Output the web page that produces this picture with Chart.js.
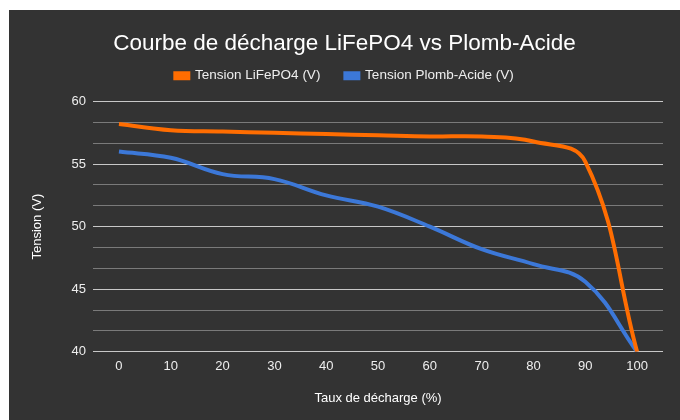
<!DOCTYPE html>
<html>
<head>
<meta charset="utf-8">
<script src="https://cdn.jsdelivr.net/npm/chart.js@4"></script>
<style>
  html, body { margin: 0; padding: 0; background: #fff; }
  #wrap { position: absolute; left: 9px; top: 10px; width: 671px; height: 410px; background: #333333; }
</style>
</head>
<body>
<div id="wrap"><canvas id="courbe"></canvas></div>
<script>
const decharge = [0, 10, 20, 30, 40, 50, 60, 70, 80, 90, 100];
const tensionLifepo4 = [58.2, 57.7, 57.6, 57.5, 57.4, 57.3, 57.2, 57.2, 56.8, 55.2, 40];
const tensionPlomb = [56.0, 55.5, 54.2, 53.8, 52.5, 51.6, 50.0, 48.2, 47.0, 45.6, 40];
const yLabels = [40, 45, 50, 55, 60];
const sousDivisions = 3;

const font = "'Liberation Sans', Arial, sans-serif";

// un peu d'espace sous la légende
const espaceLegende = {
  id: "espaceLegende",
  beforeInit(chart) {
    const fit = chart.legend.fit;
    chart.legend.fit = function () {
      fit.call(this);
      this.height += 9;
    };
  },
};

new Chart(document.getElementById("courbe"), {
  type: "line",
  data: {
    labels: decharge,
    datasets: [
      { label: "Tension LiFePO4 (V)", data: tensionLifepo4, borderColor: "#ff6d01", backgroundColor: "#ff6d01", borderWidth: 4, pointRadius: 0, tension: 0.4 },
      { label: "Tension Plomb-Acide (V)", data: tensionPlomb, borderColor: "#3c78d8", backgroundColor: "#3c78d8", borderWidth: 4, pointRadius: 0, tension: 0.4 },
    ],
  },
  options: {
    responsive: true,
    maintainAspectRatio: false,
    animation: false,
    layout: { padding: { left: 17, right: 17, top: 12, bottom: 10 } },
    plugins: {
      title: { display: true, text: "Courbe de décharge LiFePO4 vs Plomb-Acide", color: "#ffffff", font: { family: font, size: 22.5, weight: "normal" }, padding: { top: 8, bottom: -13 } },
      legend: { labels: { color: "#eeeeee", boxWidth: 13, boxHeight: 5, font: { family: font, size: 13.5 }, padding: 25 } },
      tooltip: { enabled: false },
    },
    scales: {
      x: {
        offset: true,
        grid: { display: false },
        border: { display: false },
        ticks: { color: "#eeeeee", font: { family: font, size: 13 }, padding: -1 },
        title: { display: true, text: "Taux de décharge (%)", color: "#ffffff", font: { family: font, size: 13 }, padding: { top: 17 } },
      },
      y: {
        min: yLabels[0],
        max: yLabels[yLabels.length - 1],
        afterBuildTicks: (axis) => {
          const ticks = [];
          for (let i = 0; i < yLabels.length; i++) {
            ticks.push({ value: yLabels[i], major: true });
            if (i < yLabels.length - 1) {
              const pas = (yLabels[i + 1] - yLabels[i]) / sousDivisions;
              for (let k = 1; k < sousDivisions; k++) ticks.push({ value: yLabels[i] + k * pas, major: false });
            }
          }
          axis.ticks = ticks;
        },
        grid: {
          color: (ctx) => (ctx.tick && ctx.tick.major ? "#c8c8c8" : "#7a7a7a"),
          lineWidth: 1,
          drawTicks: false,
        },
        border: { display: false },
        ticks: {
          color: "#eeeeee",
          font: { family: font, size: 13 },
          padding: 7,
          autoSkip: false,
          callback: function (v, i, ticks) { return ticks[i].major ? v : ""; },
        },
        title: { display: true, text: "Tension (V)", color: "#ffffff", font: { family: font, size: 13 }, padding: { bottom: 19 } },
      },
    },
  },
  plugins: [espaceLegende],
});
</script>
</body>
</html>
